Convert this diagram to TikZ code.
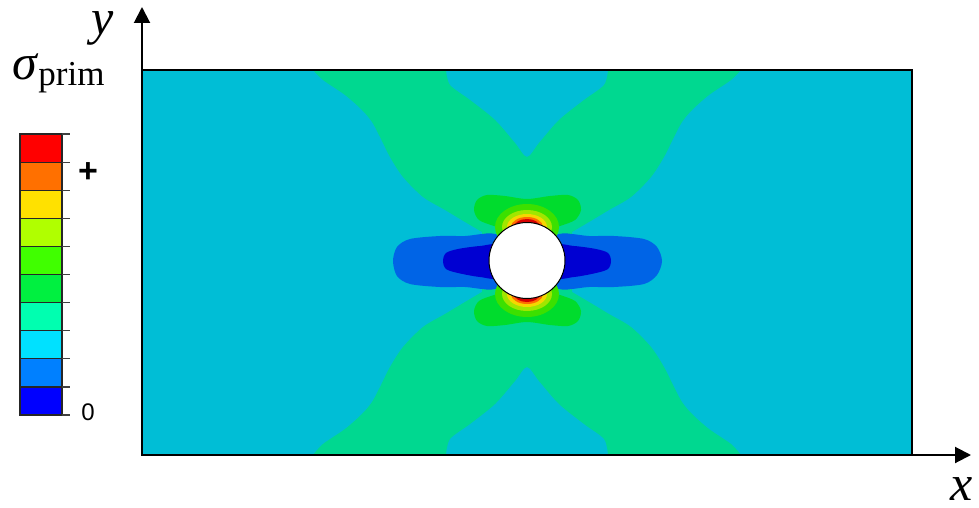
\documentclass[tikz,border=0pt]{standalone}
\usepackage{fontspec}
\setmainfont{Liberation Serif}
\setsansfont{Liberation Sans}
\usepackage{tikz}
\usetikzlibrary{arrows.meta}

% field colours
\definecolor{plate}{RGB}{0,190,214}
\definecolor{band}{RGB}{0,216,144}
\definecolor{lobe}{RGB}{0,100,230}
\definecolor{core}{RGB}{0,0,210}
\definecolor{blob}{RGB}{0,220,45}
\definecolor{ringA}{RGB}{60,224,0}
\definecolor{ringB}{RGB}{160,230,0}
\definecolor{ringC}{RGB}{245,215,0}
\definecolor{ringD}{RGB}{255,110,0}
\definecolor{ringE}{RGB}{215,0,0}
% scale colours
\definecolor{barA}{RGB}{255,0,0}
\definecolor{barB}{RGB}{255,112,0}
\definecolor{barC}{RGB}{255,225,0}
\definecolor{barD}{RGB}{176,255,0}
\definecolor{barE}{RGB}{64,255,0}
\definecolor{barF}{RGB}{0,240,64}
\definecolor{barG}{RGB}{0,255,176}
\definecolor{barH}{RGB}{0,225,255}
\definecolor{barI}{RGB}{0,128,255}
\definecolor{barJ}{RGB}{0,0,255}

\begin{document}
\begin{tikzpicture}[x=1pt,y=-1pt,>={Triangle[length=16pt,width=16pt]},
                    axis/.style={->,line width=2pt},
                    bar box/.style={draw=black!85,line width=1.2pt},
                    bar tick/.style={draw=black!75,line width=1.2pt},
                    big label/.style={font=\fontsize{50}{50}\selectfont,inner sep=0pt},
                    scale label/.style={font=\sffamily\fontsize{24}{24}\selectfont,inner sep=0pt}]
  \useasboundingbox (0,0) rectangle (979,508);

  % plate
  \fill[plate] (142,70) rectangle (912,455);

  % crossing band
  \fill[band]
    plot[smooth] coordinates {(313,70) (323,80) (345,95) (362,110) (372,122) (380,137)
                              (390,157) (403,177) (423,197) (445,210) (465,222) (482,232)}
    -- plot[smooth] coordinates {(482,292) (465,302) (445,314) (423,327) (403,347) (390,367)
                                 (380,387) (372,402) (362,414) (345,429) (323,444) (313,455)}
    -- plot[smooth] coordinates {(446,455) (450,439) (470,424) (495,404) (515,381) (527,367)
                                 (539,381) (559,404) (584,424) (604,439) (608,455)}
    -- plot[smooth] coordinates {(741,455) (731,444) (709,429) (692,414) (682,402) (674,387)
                                 (664,367) (651,347) (631,327) (609,314) (589,302) (572,292)}
    -- plot[smooth] coordinates {(572,232) (589,222) (609,210) (631,197) (651,177) (664,157)
                                 (674,137) (682,122) (692,110) (709,95) (731,80) (741,70)}
    -- plot[smooth] coordinates {(608,70) (604,85) (584,100) (559,120) (539,143) (527,157)
                                 (515,143) (495,120) (470,100) (450,85) (446,70)}
    -- cycle;

  % side lobes
  \fill[lobe] plot[smooth cycle] coordinates {(393,261) (397,247) (410,239) (440,236) (465,236)
      (482,234) (495,234) (527,245) (559,234) (572,234) (589,236) (614,236) (644,239) (657,247)
      (662,261) (657,275) (644,284) (614,287) (589,287) (572,289) (559,289) (527,278) (495,289)
      (482,289) (465,287) (440,287) (410,284) (397,276)};
  \fill[core] plot[smooth cycle] coordinates {(443,261) (446,253) (458,249) (480,246) (500,246)
      (500,277) (480,277) (458,273) (446,269)};
  \fill[core] plot[smooth cycle] coordinates {(611,261) (608,253) (596,249) (574,246) (554,246)
      (554,277) (574,277) (596,273) (608,269)};

  % peaks above and below the hole
  \foreach \flip in {1,-1} {
    \begin{scope}[shift={(0,{260.5*(1-\flip)})},yscale=\flip]
      \fill[blob] plot[smooth cycle] coordinates {(477,200) (487,195) (505,196) (527,199) (550,196)
          (568,195) (578,200) (581,210) (575,220) (560,226) (540,232) (527,235) (514,232)
          (494,226) (479,220) (474,210)};
      \fill[ringA] (527,227) ellipse [x radius=32pt,y radius=23pt];
      \fill[ringB] (527,227) ellipse [x radius=25pt,y radius=17pt];
      \fill[ringC] (527,227) ellipse [x radius=20pt,y radius=13pt];
      \fill[ringD] (527,227) ellipse [x radius=16pt,y radius=10pt];
      \fill[ringE] (527,227) ellipse [x radius=13pt,y radius=8pt];
    \end{scope}
  }

  % hole
  \filldraw[fill=white,draw=black,line width=1pt] (527,260.5) circle [radius=38pt];

  % plate border and axes
  \draw[line width=1.5pt] (142,70) rectangle (912,455);
  \coordinate (O) at (142,455);
  \coordinate (xend) at (971,455);
  \coordinate (yend) at (142,7);
  \draw[axis] (O) -- (xend);
  \draw[axis] (O) -- (yend);
  \node[big label,anchor=base] (ylab) at (103,35) {\textit{y}};
  \node[big label,anchor=base] (xlab) at (962,500) {\textit{x}};

  % colour scale
  \node[big label,anchor=base west] (sigma) at (12,80)
    {\textit{σ}\raisebox{-6pt}{\fontsize{35}{35}\selectfont prim}};
  \foreach \col [count=\i] in {barA,barB,barC,barD,barE,barF,barG,barH,barI,barJ} {
    \filldraw[bar box,fill=\col] (20,{134+(\i-1)*28.1}) rectangle (62,{134+\i*28.1});
    \draw[bar tick] (62,{134+(\i-1)*28.1}) -- (70,{134+(\i-1)*28.1});
  }
  \draw[bar tick] (62,415) -- (70,415);
  \node[scale label,font=\sffamily\bfseries\fontsize{34}{34}\selectfont] (plus) at (88,173) {+};
  \node[scale label] (zero) at (88,412) {0};
\end{tikzpicture}
\end{document}
